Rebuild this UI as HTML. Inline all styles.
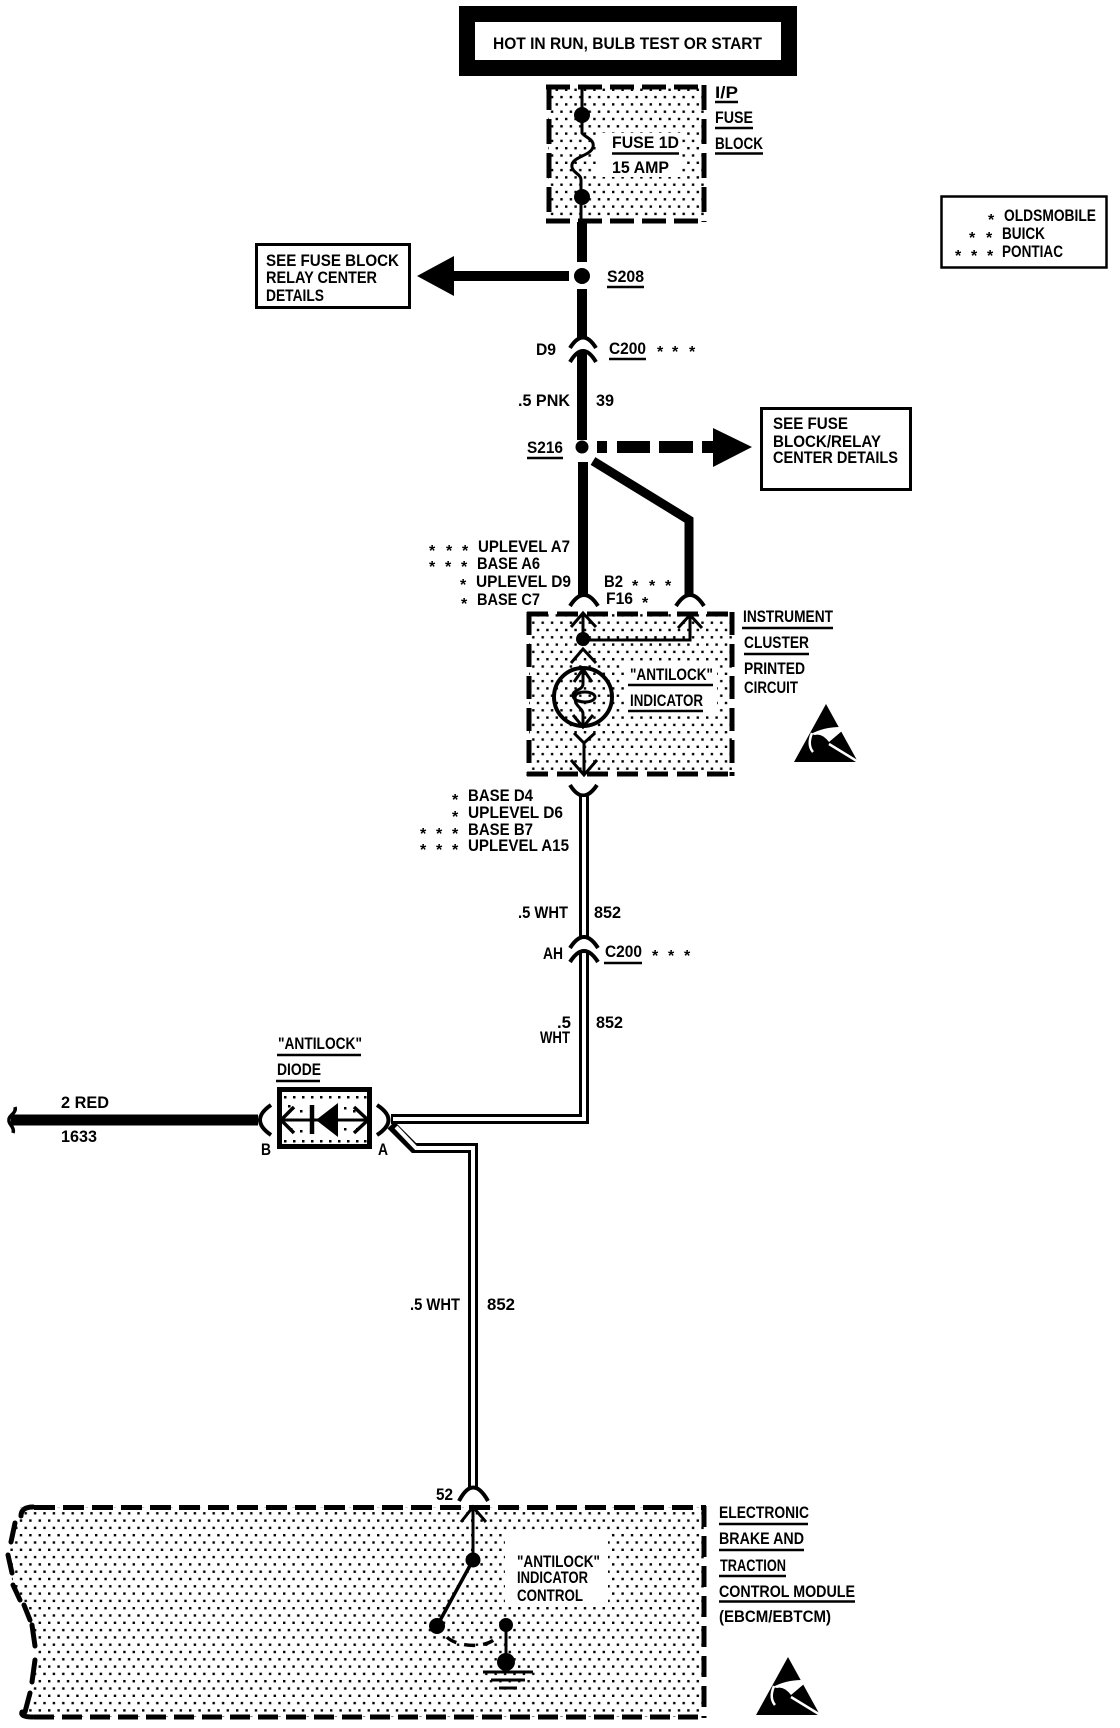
<!DOCTYPE html>
<html><head><meta charset="utf-8"><style>
html,body{margin:0;padding:0;background:#fff;width:1120px;height:1728px;overflow:hidden}
svg{display:block}
text{font-family:"Liberation Sans",sans-serif;font-weight:bold;font-size:17px;fill:#000;white-space:pre}
.s{font-size:16px;transform:translate(1px,1px)}
</style></head><body>
<svg width="1120" height="1728" viewBox="0 0 1120 1728" xmlns="http://www.w3.org/2000/svg">
<defs>
<pattern id="d" width="9.4" height="14.6" patternUnits="userSpaceOnUse">
<rect x="1" y="1" width="2.4" height="2.4" fill="#000"/><rect x="5.7" y="8.3" width="2.4" height="2.4" fill="#000"/>
</pattern>
<g id="esd">
<path d="M826 704L858 762H794Z"/>
<path d="M811 734Q824 727 840 727L842 731L829 742Q822 733 815 735" fill="#fff"/>
<path d="M812 733Q807 745 813 752M829 744L860 763" fill="none" stroke="#fff" stroke-width="2.500"/>
</g>
</defs>
<rect width="1120" height="1728" fill="#fff"/>

<!-- top banner -->
<rect x="467" y="14" width="322" height="54" fill="#fff" stroke="#000" stroke-width="16"/>
<text x="493" y="49" textLength="269" lengthAdjust="spacingAndGlyphs">HOT IN RUN, BULB TEST OR START</text>

<!-- fuse block -->
<rect x="548" y="87" width="156" height="133" fill="url(#d)"/>
<rect x="597" y="133" width="85" height="44" fill="#fff"/>
<g fill="none" stroke="#000" stroke-width="5">
<path d="M546 87H706" stroke-dasharray="24 8"/>
<path d="M546 221H706" stroke-dasharray="24 8"/>
<path d="M549 85V222" stroke-dasharray="25 9"/>
<path d="M704 85V222" stroke-dasharray="25 9"/>
</g>
<path d="M582 85V133C584 137 595 139 593 147C591 156 570 157 572 167C573 173 581 174 581 180V222" fill="none" stroke="#000" stroke-width="3"/>
<circle cx="582" cy="115" r="8"/><circle cx="582" cy="197" r="8"/>
<text x="612" y="148" textLength="67" lengthAdjust="spacingAndGlyphs">FUSE 1D</text>
<path d="M612 153.500H679" stroke="#000" stroke-width="2.500"/>
<text x="612" y="173" textLength="57" lengthAdjust="spacingAndGlyphs">15 AMP</text>
<text x="715" y="98" textLength="23" lengthAdjust="spacingAndGlyphs">I/P</text>
<path d="M715 102H738" stroke="#000" stroke-width="2.500"/>
<text x="715" y="123" textLength="38" lengthAdjust="spacingAndGlyphs">FUSE</text>
<path d="M715 128H753" stroke="#000" stroke-width="2.500"/>
<text x="715" y="149" textLength="48" lengthAdjust="spacingAndGlyphs">BLOCK</text>
<path d="M715 153.500H763" stroke="#000" stroke-width="2.500"/>

<!-- legend -->
<rect x="941.500" y="196.500" width="165" height="71" fill="#fff" stroke="#000" stroke-width="2.500"/>
<text x="1004" y="221" textLength="92" lengthAdjust="spacingAndGlyphs">OLDSMOBILE</text>
<text x="1002" y="239" textLength="43" lengthAdjust="spacingAndGlyphs">BUICK</text>
<text x="1002" y="257" textLength="61" lengthAdjust="spacingAndGlyphs">PONTIAC</text>
<text class="s" x="987" y="224">*</text>
<text class="s" x="968" y="242">*</text><text class="s" x="985" y="242">*</text>
<text class="s" x="954" y="260">*</text><text class="s" x="970" y="260">*</text><text class="s" x="986" y="260">*</text>

<!-- main wire upper -->
<path d="M582 222V262M582 289V339M582 352V440M583 462V597" stroke="#000" stroke-width="10" fill="none"/>
<circle cx="582" cy="276" r="8"/>
<path d="M569 276H454" stroke="#000" stroke-width="10"/>
<path d="M454 256L417 276L454 296Z"/>
<rect x="256.500" y="244.500" width="153" height="63" fill="#fff" stroke="#000" stroke-width="3"/>
<text x="266" y="266" textLength="133" lengthAdjust="spacingAndGlyphs">SEE FUSE BLOCK</text>
<text x="266" y="283" textLength="111" lengthAdjust="spacingAndGlyphs">RELAY CENTER</text>
<text x="266" y="301" textLength="58" lengthAdjust="spacingAndGlyphs">DETAILS</text>
<text x="607" y="282" textLength="37" lengthAdjust="spacingAndGlyphs">S208</text>
<path d="M607 287H644" stroke="#000" stroke-width="2.500"/>

<!-- C200 top -->
<g fill="none" stroke="#000" stroke-width="4">
<path d="M570 348Q583 327 596 348"/>
<path d="M570 362Q583 340 596 362"/>
</g>
<text x="536" y="355" textLength="20" lengthAdjust="spacingAndGlyphs">D9</text>
<text x="609" y="354" textLength="37" lengthAdjust="spacingAndGlyphs">C200</text>
<path d="M609 359H646" stroke="#000" stroke-width="2.500"/>
<text class="s" x="656" y="356">*</text><text class="s" x="671" y="356">*</text><text class="s" x="688" y="356">*</text>
<text x="518" y="406" textLength="52" lengthAdjust="spacingAndGlyphs">.5 PNK</text>
<text x="596" y="406" textLength="18" lengthAdjust="spacingAndGlyphs">39</text>

<!-- S216 -->
<circle cx="582" cy="447" r="6.500"/>
<text x="527" y="453" textLength="36" lengthAdjust="spacingAndGlyphs">S216</text>
<path d="M527 458H563" stroke="#000" stroke-width="2.500"/>
<path d="M597 447H607M617 447H650M659 447H693M702 447H714" stroke="#000" stroke-width="12"/>
<path d="M713 428L752 447L713 467Z"/>
<rect x="761.500" y="408.500" width="149" height="81" fill="#fff" stroke="#000" stroke-width="3"/>
<text x="773" y="429" textLength="75" lengthAdjust="spacingAndGlyphs">SEE FUSE</text>
<text x="773" y="447" textLength="108" lengthAdjust="spacingAndGlyphs">BLOCK/RELAY</text>
<text x="773" y="463" textLength="125" lengthAdjust="spacingAndGlyphs">CENTER DETAILS</text>
<path d="M593 461L689 520V597" fill="none" stroke="#000" stroke-width="9"/>

<!-- labels left of cluster -->
<text class="s" x="428" y="555">*</text><text class="s" x="445" y="555">*</text><text class="s" x="461" y="555">*</text>
<text x="478" y="552" textLength="92" lengthAdjust="spacingAndGlyphs">UPLEVEL A7</text>
<text class="s" x="428" y="571">*</text><text class="s" x="444" y="571">*</text><text class="s" x="460" y="571">*</text>
<text x="477" y="569" textLength="63" lengthAdjust="spacingAndGlyphs">BASE A6</text>
<text class="s" x="459" y="589">*</text>
<text x="476" y="587" textLength="95" lengthAdjust="spacingAndGlyphs">UPLEVEL D9</text>
<text class="s" x="460" y="608">*</text>
<text x="477" y="605" textLength="63" lengthAdjust="spacingAndGlyphs">BASE C7</text>
<text x="604" y="587" textLength="19" lengthAdjust="spacingAndGlyphs">B2</text>
<text class="s" x="631" y="590">*</text><text class="s" x="648" y="590">*</text><text class="s" x="664" y="590">*</text>
<text x="606" y="604" textLength="27" lengthAdjust="spacingAndGlyphs">F16</text>
<text class="s" x="641" y="607">*</text>

<!-- instrument cluster -->
<rect x="529" y="614" width="203" height="160" fill="url(#d)"/>
<rect x="625" y="662" width="92" height="54" fill="#fff"/>
<g fill="none" stroke="#000" stroke-width="5">
<path d="M527 614H734" stroke-dasharray="21 9"/>
<path d="M527 774H734" stroke-dasharray="21 9"/>
<path d="M529 612V776" stroke-dasharray="23 9"/>
<path d="M732 612V776" stroke-dasharray="23 9"/>
</g>
<g fill="none" stroke="#000" stroke-width="4">
<path d="M570 606Q584 584 598 606"/>
<path d="M676 606Q690 584 704 606"/>
<path d="M570 785Q583 806 597 785"/>
</g>
<g fill="none" stroke="#000" stroke-width="3">
<path d="M571 627L583 613L596 627M583 613V640H690V616M678 628L690 615L702 628"/>
<path d="M571 663L583 649L596 663"/>
<path d="M574 733L584 743L595 733M584 743V774M571 760L584 775L597 760"/>
<circle cx="583" cy="697" r="29" stroke-width="4"/>
<path d="M574 682L583 669L592 682M583 669V684C583 690 573 690 573 695C573 702 585 702 585 702C592 702 595 699 595 697C595 694 590 692 585 692C579 692 575 694 575 698C575 707 583 708 583 714V726M573 715L583 727L593 715"/>
</g>
<circle cx="583" cy="639" r="7"/>
<text x="630" y="680" textLength="83" lengthAdjust="spacingAndGlyphs">"ANTILOCK"</text>
<path d="M628 685H713" stroke="#000" stroke-width="2.500"/>
<text x="630" y="706" textLength="73" lengthAdjust="spacingAndGlyphs">INDICATOR</text>
<path d="M628 711H703" stroke="#000" stroke-width="2.500"/>
<text x="743" y="622" textLength="90" lengthAdjust="spacingAndGlyphs">INSTRUMENT</text>
<path d="M742 628H833" stroke="#000" stroke-width="2.500"/>
<text x="744" y="648" textLength="65" lengthAdjust="spacingAndGlyphs">CLUSTER</text>
<path d="M744 654H809" stroke="#000" stroke-width="2.500"/>
<text x="744" y="674" textLength="61" lengthAdjust="spacingAndGlyphs">PRINTED</text>
<text x="744" y="693" textLength="54" lengthAdjust="spacingAndGlyphs">CIRCUIT</text>
<use href="#esd"/>

<!-- below cluster labels -->
<text class="s" x="451" y="804">*</text>
<text x="468" y="801" textLength="65" lengthAdjust="spacingAndGlyphs">BASE D4</text>
<text class="s" x="451" y="821">*</text>
<text x="468" y="818" textLength="95" lengthAdjust="spacingAndGlyphs">UPLEVEL D6</text>
<text class="s" x="419" y="838">*</text><text class="s" x="435" y="838">*</text><text class="s" x="451" y="838">*</text>
<text x="468" y="835" textLength="65" lengthAdjust="spacingAndGlyphs">BASE B7</text>
<text class="s" x="419" y="854">*</text><text class="s" x="435" y="854">*</text><text class="s" x="451" y="854">*</text>
<text x="468" y="851" textLength="101" lengthAdjust="spacingAndGlyphs">UPLEVEL A15</text>

<!-- double wires -->
<g fill="none" stroke="#000" stroke-width="10">
<path d="M584 795V939"/>
<path d="M584 952V1119H391"/>
<path d="M391 1125L414 1148H473V1488"/>
</g>
<g fill="none" stroke="#fff" stroke-width="4">
<path d="M584 797V938"/>
<path d="M584 953V1119H393"/>
<path d="M396 1127L416 1148H473V1488"/>
</g>
<g fill="none" stroke="#000" stroke-width="4">
<path d="M570 948Q584 926 598 948"/>
<path d="M570 962Q584 940 598 962"/>
<path d="M459 1501Q473 1474 488 1501"/>
</g>
<text x="518" y="918" textLength="50" lengthAdjust="spacingAndGlyphs">.5 WHT</text>
<text x="594" y="918" textLength="27" lengthAdjust="spacingAndGlyphs">852</text>
<text x="543" y="959" textLength="20" lengthAdjust="spacingAndGlyphs">AH</text>
<text x="605" y="957" textLength="37" lengthAdjust="spacingAndGlyphs">C200</text>
<path d="M604 963H642" stroke="#000" stroke-width="2.500"/>
<text class="s" x="651" y="960">*</text><text class="s" x="667" y="960">*</text><text class="s" x="683" y="960">*</text>
<text x="557" y="1028" textLength="14" lengthAdjust="spacingAndGlyphs">.5</text>
<text x="540" y="1043" textLength="30" lengthAdjust="spacingAndGlyphs">WHT</text>
<text x="596" y="1028" textLength="27" lengthAdjust="spacingAndGlyphs">852</text>

<!-- diode -->
<text x="278" y="1049" textLength="84" lengthAdjust="spacingAndGlyphs">"ANTILOCK"</text>
<path d="M277 1055H361" stroke="#000" stroke-width="2.500"/>
<text x="277" y="1075" textLength="44" lengthAdjust="spacingAndGlyphs">DIODE</text>
<path d="M276 1081H320" stroke="#000" stroke-width="2.500"/>
<rect x="279.500" y="1089.500" width="90" height="57" fill="#fff"/>
<g fill="#000">
<path d="M284 1096h2.500v2.500h-2.500zM293 1096h2.500v2.500h-2.500zM302 1096h2.500v2.500h-2.500zM311 1096h2.500v2.500h-2.500zM320 1096h2.500v2.500h-2.500zM329 1096h2.500v2.500h-2.500zM338 1096h2.500v2.500h-2.500zM347 1096h2.500v2.500h-2.500zM356 1096h2.500v2.500h-2.500zM364 1096h2.500v2.500h-2.500z"/>
<path d="M288 1105h2.500v2.500h-2.500zM300 1110h2.500v2.500h-2.500zM344 1107h2.500v2.500h-2.500zM353 1110h2.500v2.500h-2.500zM290 1128h2.500v2.500h-2.500zM300 1130h2.500v2.500h-2.500zM344 1128h2.500v2.500h-2.500zM356 1128h2.500v2.500h-2.500z"/>
<path d="M284 1140h2.500v2.500h-2.500zM293 1140h2.500v2.500h-2.500zM302 1140h2.500v2.500h-2.500zM311 1140h2.500v2.500h-2.500zM320 1140h2.500v2.500h-2.500zM329 1140h2.500v2.500h-2.500zM338 1140h2.500v2.500h-2.500zM347 1140h2.500v2.500h-2.500zM356 1140h2.500v2.500h-2.500zM364 1140h2.500v2.500h-2.500z"/>
</g>
<rect x="279.500" y="1089.500" width="90" height="57" fill="none" stroke="#000" stroke-width="5"/>
<path d="M281 1120H368" stroke="#000" stroke-width="3"/>
<path d="M294 1107L281 1120L294 1133M354 1107L368 1120L354 1133" fill="none" stroke="#000" stroke-width="3.500"/>
<path d="M312 1105V1134" stroke="#000" stroke-width="4.500"/>
<path d="M316 1120L338 1103V1137Z"/>
<g fill="none" stroke="#000" stroke-width="4">
<path d="M271 1105Q249 1120 271 1135"/>
<path d="M377 1105Q400 1120 377 1135"/>
</g>
<path d="M11 1120H258" stroke="#000" stroke-width="11"/>
<path d="M15 1107C17 1113 8 1116 9 1120C8 1124 15 1127 13 1133" fill="none" stroke="#000" stroke-width="3.500"/>
<text x="61" y="1108" textLength="48" lengthAdjust="spacingAndGlyphs">2 RED</text>
<text x="61" y="1142" textLength="36" lengthAdjust="spacingAndGlyphs">1633</text>
<text x="261" y="1155" textLength="10" lengthAdjust="spacingAndGlyphs">B</text>
<text x="378" y="1155" textLength="10" lengthAdjust="spacingAndGlyphs">A</text>
<text x="410" y="1310" textLength="50" lengthAdjust="spacingAndGlyphs">.5 WHT</text>
<text x="487" y="1310" textLength="28" lengthAdjust="spacingAndGlyphs">852</text>

<!-- module -->
<path d="M20 1507H705V1717H22L32 1685L34 1640L28 1612L12 1580L9 1550L15 1525Z" fill="url(#d)"/>
<rect x="505" y="1533" width="103" height="74" fill="#fff"/>
<g fill="none" stroke="#000" stroke-width="5">
<path d="M34 1507.500H706" stroke-dasharray="21 8"/>
<path d="M34 1717H706" stroke-dasharray="20 8"/>
<path d="M704 1506V1718" stroke-dasharray="21 9"/>
<path d="M21 1516Q21 1507 33 1507M15 1523L11 1542M8 1555L12 1573M13 1585L20 1600M24 1605L30 1620M32 1625L35 1646M35 1660L32 1682M30 1693L25 1712M22 1712Q20 1717 33 1717" stroke-linecap="round"/>
</g>
<text x="436" y="1500" textLength="17" lengthAdjust="spacingAndGlyphs">52</text>
<path d="M461 1522L473 1507L486 1522M473 1507V1560" fill="none" stroke="#000" stroke-width="3"/>
<circle cx="473" cy="1560" r="7.500"/>
<path d="M473 1560L437 1626" stroke="#000" stroke-width="3.500"/>
<circle cx="437" cy="1626" r="8"/>
<circle cx="506" cy="1625" r="7"/>
<path d="M506 1625V1662" stroke="#000" stroke-width="3"/>
<circle cx="506" cy="1662" r="9"/>
<path d="M447 1637C456 1647 490 1650 498 1635" fill="none" stroke="#000" stroke-width="3.500" stroke-dasharray="11 8"/>
<path d="M483 1672H533M491 1680H525M499 1688H517" stroke="#000" stroke-width="3"/>
<text x="517" y="1567" textLength="83" lengthAdjust="spacingAndGlyphs">"ANTILOCK"</text>
<text x="517" y="1583" textLength="71" lengthAdjust="spacingAndGlyphs">INDICATOR</text>
<text x="517" y="1601" textLength="66" lengthAdjust="spacingAndGlyphs">CONTROL</text>
<text x="719" y="1518" textLength="90" lengthAdjust="spacingAndGlyphs">ELECTRONIC</text>
<path d="M719 1524H808" stroke="#000" stroke-width="2.500"/>
<text x="719" y="1544" textLength="85" lengthAdjust="spacingAndGlyphs">BRAKE AND</text>
<path d="M719 1550H804" stroke="#000" stroke-width="2.500"/>
<text x="720" y="1571" textLength="66" lengthAdjust="spacingAndGlyphs">TRACTION</text>
<path d="M719 1576H786" stroke="#000" stroke-width="2.500"/>
<text x="719" y="1597" textLength="136" lengthAdjust="spacingAndGlyphs">CONTROL MODULE</text>
<path d="M719 1601.500H855" stroke="#000" stroke-width="2.500"/>
<text x="719" y="1622" textLength="112" lengthAdjust="spacingAndGlyphs">(EBCM/EBTCM)</text>
<use href="#esd" transform="translate(-38 953)"/>
</svg>
</body></html>
